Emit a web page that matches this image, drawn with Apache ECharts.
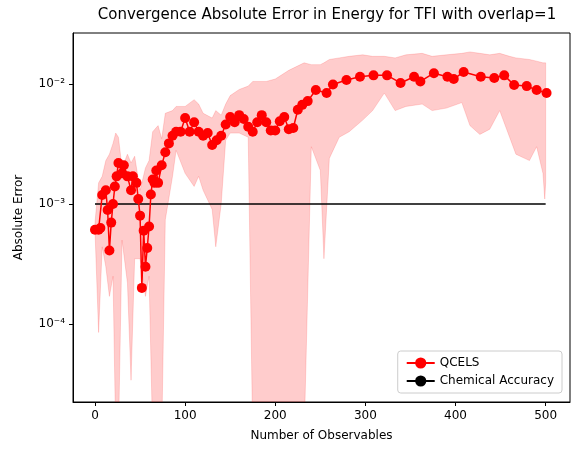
<!DOCTYPE html>
<html>
<head>
<meta charset="utf-8">
<script src="https://cdn.jsdelivr.net/npm/echarts@6/dist/echarts.min.js"></script>
<style>html,body{margin:0;padding:0;background:#fff}#chart{width:584px;height:455px}</style>
</head>
<body>
<div id="chart"></div>
<script>
// QCELS mean error (x, value)
var qX = [0,4,6,8,12,14,16,18,20,22,24,26,30,32,36,40,42,46,48,50,52,54,56,58,60,62,64,66,68,70,74,78,82,86,90,95,100,105,110,115,120,125,130,135,140,145,150,155,160,165,170,175,180,185,190,195,200,205,210,215,220,225,230,236,245,257,264,279,294,309,324,339,354,361,376,391,398,409,428,443,454,465,479,490,501];
var qY = [6.1e-4,6.1e-4,6.3e-4,1.19e-3,1.3e-3,8.9e-4,4.1e-4,7e-4,1e-3,1.4e-3,1.7e-3,2.2e-3,1.8e-3,2.1e-3,1.7e-3,1.3e-3,1.7e-3,1.5e-3,1.1e-3,8e-4,2e-4,6e-4,3e-4,4.3e-4,6.5e-4,1.2e-3,1.6e-3,1.5e-3,1.9e-3,1.5e-3,2.1e-3,2.7e-3,3.2e-3,3.7e-3,4e-3,4e-3,5.2e-3,4e-3,4.8e-3,4e-3,3.7e-3,3.9e-3,3.1e-3,3.4e-3,3.7e-3,4.6e-3,5.3e-3,4.8e-3,5.5e-3,5.1e-3,4.4e-3,4e-3,4.8e-3,5.5e-3,4.8e-3,4.1e-3,4.1e-3,4.9e-3,5.3e-3,4.2e-3,4.3e-3,6.1e-3,6.7e-3,7.2e-3,8.9e-3,8.4e-3,9.9e-3,1.08e-2,1.15e-2,1.18e-2,1.18e-2,1.02e-2,1.15e-2,1.05e-2,1.23e-2,1.15e-2,1.1e-2,1.26e-2,1.15e-2,1.12e-2,1.18e-2,9.8e-3,9.6e-3,8.9e-3,8.4e-3];
// shaded band (x, lower, upper); lower values below the axis are cut off
var bX = [0,4,8,12,16,20,23,26,30,36,40,44,50,56,60,64,70,74,78,86,90,100,110,115,120,130,134,140,145,150,160,170,175,190,200,215,232,240,250,254,260,271,282,297,308,321,333,345,363,374,390,407,416,427,438,449,460,467,482,490,497,499,500];
var bLow = [6e-4,8.5e-5,4.4e-4,3e-4,1.7e-4,2.5e-4,1e-6,1e-6,5e-4,2.2e-4,3.4e-5,3.5e-4,3.5e-4,1.7e-4,2.5e-4,1e-6,1e-6,1e-6,7.4e-4,1.7e-3,2.8e-3,1.8e-3,1.4e-3,1.7e-3,1.3e-3,9e-4,4.4e-4,1e-3,3.4e-3,3.9e-3,3.9e-3,3.6e-3,1e-6,1e-6,1e-6,1e-6,1e-6,3e-3,1.9e-3,3.5e-4,2.4e-3,3.6e-3,4e-3,5e-3,6e-3,8.4e-3,6e-3,6.5e-3,6.8e-3,6e-3,6.3e-3,7e-3,4.5e-3,3.8e-3,4.2e-3,6e-3,3.6e-3,2.6e-3,2.3e-3,3e-3,1.8e-3,1.1e-3,1.5e-3];
var bUp = [7e-4,1.5e-3,1.7e-3,2.3e-3,2.6e-3,3.2e-3,3.9e-3,3.6e-3,2e-3,2.6e-3,2.2e-3,2.5e-3,1.3e-3,2e-3,2.3e-3,4e-3,4.5e-3,3.5e-3,5.7e-3,6e-3,6.5e-3,6.5e-3,7.4e-3,6.8e-3,5.7e-3,5.2e-3,6e-3,5.5e-3,6.8e-3,8e-3,9e-3,9.6e-3,1.05e-2,1.05e-2,1.1e-2,1.3e-2,1.5e-2,1.45e-2,1.45e-2,1.5e-2,1.6e-2,1.65e-2,1.7e-2,1.75e-2,1.7e-2,1.7e-2,1.65e-2,1.75e-2,1.8e-2,1.7e-2,1.75e-2,1.8e-2,1.85e-2,1.8e-2,1.75e-2,1.8e-2,1.7e-2,1.65e-2,1.6e-2,1.55e-2,1.5e-2,1.5e-2,1.5e-2];
var xTicks = [0,100,200,300,400,500];
var yTicks = [1e-4,1e-3,1e-2];
var chemAcc = 1e-3;
var yMin = 2.24e-5, yMax = 0.0266;

var chart = echarts.init(document.getElementById('chart'));
var supMap = {'-':'\u207B','0':'\u2070','1':'\u00B9','2':'\u00B2','3':'\u00B3','4':'\u2074','5':'\u2075'};
function fmtLog(v) {
    var e = Math.round(Math.log10(v));
    return '10' + String(e).split('').map(function (c) { return supMap[c]; }).join('');
}

// band drawn as one polygon through the axis scales
function renderBand(params, api) {
    var pts = [];
    for (var i = 0; i < bX.length; i++) pts.push(api.coord([bX[i], bUp[i]]));
    for (var j = bX.length - 1; j >= 0; j--) pts.push(api.coord([bX[j], Math.max(bLow[j], yMin * 0.5)]));
    return {
        type: 'polygon',
        shape: {points: pts},
        style: {fill: 'rgba(255,0,0,0.2)', stroke: 'rgba(255,0,0,0.15)', lineWidth: 1},
        clipPath: {type: 'rect', shape: {x: params.coordSys.x, y: params.coordSys.y, width: params.coordSys.width, height: params.coordSys.height}}
    };
}

var option = {
    animation: false,
    textStyle: {fontFamily: 'DejaVu Sans'},
    title: {
        text: 'Convergence Absolute Error in Energy for TFI with overlap=1',
        left: 322, top: 3, textAlign: 'center',
        textStyle: {fontSize: 15, fontWeight: 'normal', color: '#000', fontFamily: 'DejaVu Sans'}
    },
    grid: {left: 73, right: 14, top: 33, bottom: 53, show: true, borderColor: '#000', borderWidth: 1},
    legend: {
        right: 22, bottom: 62, orient: 'vertical',
        borderColor: '#ccc', borderWidth: 1, borderRadius: 3, padding: [6, 8],
        itemWidth: 28, itemGap: 6,
        textStyle: {fontSize: 12, color: '#000'},
        data: ['QCELS', 'Chemical Accuracy']
    },
    xAxis: {
        type: 'value', min: -24.4, max: 527,
        name: 'Number of Observables', nameLocation: 'middle', nameGap: 28,
        nameTextStyle: {fontSize: 12, color: '#000'},
        splitLine: {show: false},
        axisLine: {onZero: false, lineStyle: {color: '#000'}},
        axisTick: {show: true, customValues: xTicks, length: 4, lineStyle: {color: '#000'}},
        axisLabel: {customValues: xTicks, color: '#000', fontSize: 12}
    },
    yAxis: {
        type: 'log', logBase: 10, min: yMin, max: yMax,
        name: 'Absolute Error', nameLocation: 'middle', nameGap: 48,
        nameTextStyle: {fontSize: 12, color: '#000'},
        splitLine: {show: false},
        axisLine: {show: true, onZero: false, lineStyle: {color: '#000'}},
        axisTick: {show: true, customValues: yTicks, length: 4, lineStyle: {color: '#000'}},
        axisLabel: {customValues: yTicks, color: '#000', fontSize: 12, formatter: fmtLog}
    },
    series: [
        {
            name: 'band', type: 'custom', renderItem: renderBand,
            data: [[bX[0], bUp[0]]], silent: true, z: 1
        },
        {
            name: 'Chemical Accuracy', type: 'line', z: 3,
            data: [[0, chemAcc], [500, chemAcc]],
            symbol: 'none', lineStyle: {color: '#000', width: 1.5}, itemStyle: {color: '#000'}
        },
        {
            name: 'QCELS', type: 'line', z: 5,
            data: qX.map(function (x, i) { return [x, qY[i]]; }),
            symbol: 'circle', symbolSize: 10,
            lineStyle: {color: '#ff0000', width: 1.5}, itemStyle: {color: '#ff0000'}
        }
    ]
};
chart.setOption(option);
</script>
</body>
</html>
